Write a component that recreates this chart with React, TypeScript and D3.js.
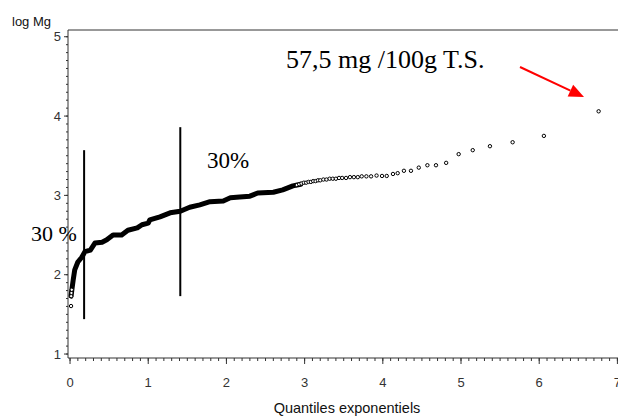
import React from "react";
import * as d3 from "d3";

const W = 618;
const H = 419;

// dense body of the quantile plot (drawn as a thick trace of overlapping markers)
const bodyX = [0.013, 0.026, 0.04, 0.06, 0.1, 0.15, 0.19, 0.26, 0.32, 0.41, 0.47, 0.55, 0.66, 0.74, 0.86, 0.92, 1.0, 1.02, 1.15, 1.28, 1.41, 1.53, 1.66, 1.79, 1.96, 2.05, 2.17, 2.3, 2.4, 2.6, 2.72, 2.85, 2.95];
const bodyY = [1.73, 1.83, 1.93, 2.06, 2.16, 2.22, 2.29, 2.31, 2.4, 2.41, 2.44, 2.5, 2.5, 2.56, 2.59, 2.63, 2.65, 2.69, 2.73, 2.78, 2.8, 2.85, 2.88, 2.92, 2.93, 2.97, 2.98, 2.99, 3.03, 3.04, 3.07, 3.12, 3.14];

// individually visible markers
const markX = [0.013, 0.015, 0.018, 0.022, 2.9, 2.93, 2.96, 2.99, 3.02, 3.05, 3.08, 3.11, 3.14, 3.17, 3.2, 3.24, 3.28, 3.32, 3.36, 3.4, 3.44, 3.48, 3.53, 3.58, 3.63, 3.68, 3.73, 3.79, 3.85, 3.92, 3.99, 4.05, 4.13, 4.19, 4.27, 4.36, 4.46, 4.57, 4.68, 4.81, 4.97, 5.15, 5.37, 5.66, 6.06, 6.76];
const markY = [1.605, 1.73, 1.77, 1.81, 3.13, 3.14, 3.15, 3.16, 3.16, 3.17, 3.17, 3.18, 3.18, 3.19, 3.19, 3.2, 3.2, 3.21, 3.21, 3.21, 3.22, 3.22, 3.22, 3.23, 3.23, 3.23, 3.24, 3.24, 3.24, 3.25, 3.245, 3.245, 3.27, 3.28, 3.31, 3.31, 3.35, 3.38, 3.38, 3.41, 3.52, 3.57, 3.62, 3.67, 3.75, 4.06];

// vertical marker lines: [x, yLow, yHigh]
const vLineX = [0.18, 1.41];
const vLineLo = [1.44, 1.73];
const vLineHi = [3.57, 3.86];

const xTicks = [0, 1, 2, 3, 4, 5, 6, 7];
const yTicks = [1, 2, 3, 4, 5];

export default function App() {
  const x = d3.scaleLinear().domain([-0.026, 7]).range([68, 617.4]);
  const y = d3.scaleLinear().domain([0.95, 5.085]).range([358, 30]);

  const xMinor = d3.range(0, 71).map((i) => i / 10).filter((v) => v <= 7.01);
  const yMinor = d3.range(10, 51).map((i) => i / 10);

  const body = bodyX.map((v, i) => [v, bodyY[i]] as [number, number]);
  const line = d3
    .line<[number, number]>()
    .x((d) => x(d[0]))
    .y((d) => y(d[1]))
    .curve(d3.curveLinear);

  const sans = "'Liberation Sans', Arial, sans-serif";
  const serif = "'Liberation Serif', 'Times New Roman', serif";
  const axisColor = "#333";

  // arrow
  const ax1 = 520, ay1 = 67, ax2 = 584, ay2 = 97;
  const ang = Math.atan2(ay2 - ay1, ax2 - ax1);
  const hl = 15, hw = 6.5;
  const bx = ax2 - hl * Math.cos(ang), by = ay2 - hl * Math.sin(ang);
  const head = [
    [ax2, ay2],
    [bx + hw * Math.sin(ang), by - hw * Math.cos(ang)],
    [bx - hw * Math.sin(ang), by + hw * Math.cos(ang)],
  ];

  return (
    <svg
      width={W}
      height={H}
      style={{ position: "absolute", left: 0, top: 0, background: "#fff" }}
    >
      <rect x={0} y={0} width={W} height={H} fill="#fff" />
      {/* frame */}
      <line x1={68} y1={30} x2={W} y2={30} stroke={axisColor} strokeWidth={1} />
      <line x1={68} y1={30} x2={68} y2={358} stroke={axisColor} strokeWidth={1} />
      <line x1={68} y1={358} x2={W} y2={358} stroke={axisColor} strokeWidth={1} />

      {/* y ticks */}
      {yMinor.map((v) => (
        <line key={"ym" + v} x1={66} x2={68} y1={y(v)} y2={y(v)} stroke={axisColor} />
      ))}
      {yTicks.map((v) => (
        <g key={"yt" + v}>
          <line x1={64} x2={68} y1={y(v)} y2={y(v)} stroke={axisColor} />
          <text
            x={61}
            y={y(v)}
            dy="0.36em"
            textAnchor="end"
            fontFamily={sans}
            fontSize={13}
            fill="#333"
          >
            {v}
          </text>
        </g>
      ))}
      <text x={12} y={26} fontFamily={sans} fontSize={13} fill="#111">
        log Mg
      </text>

      {/* x ticks */}
      {xMinor.map((v) => (
        <line key={"xm" + v} x1={x(v)} x2={x(v)} y1={358} y2={361} stroke={axisColor} />
      ))}
      {xTicks.map((v) => (
        <g key={"xt" + v}>
          <line x1={x(v)} x2={x(v)} y1={358} y2={364} stroke={axisColor} />
          <text
            x={x(v)}
            y={387}
            textAnchor="middle"
            fontFamily={sans}
            fontSize={13}
            fill="#333"
          >
            {v}
          </text>
        </g>
      ))}
      <text
        x={347}
        y={413}
        textAnchor="middle"
        fontFamily={sans}
        fontSize={14.5}
        fill="#111"
      >
        Quantiles exponentiels
      </text>

      {/* dense body */}
      <path
        d={line(body) || ""}
        fill="none"
        stroke="#000"
        strokeWidth={5}
        strokeLinejoin="round"
        strokeLinecap="round"
      />
      {markX.map((v, i) => (
        <circle
          key={"m" + i}
          cx={x(v)}
          cy={y(markY[i])}
          r={1.7}
          fill="#fff"
          stroke="#000"
          strokeWidth={1}
        />
      ))}

      {/* vertical lines */}
      {vLineX.map((v, i) => (
        <line
          key={"v" + i}
          x1={x(v)}
          x2={x(v)}
          y1={y(vLineLo[i])}
          y2={y(vLineHi[i])}
          stroke="#000"
          strokeWidth={2}
        />
      ))}

      {/* annotations */}
      <text x={31} y={241} fontFamily={serif} fontSize={22} fill="#000">
        30 %
      </text>
      <text x={207} y={168} fontFamily={serif} fontSize={23} fill="#000">
        30%
      </text>
      <text x={286} y={68} fontFamily={serif} fontSize={26} fill="#000">
        57,5 mg /100g T.S.
      </text>
      <line x1={ax1} y1={ay1} x2={bx} y2={by} stroke="#f00" strokeWidth={2} />
      <polygon points={head.map((p) => p.join(",")).join(" ")} fill="#f00" />
    </svg>
  );
}
